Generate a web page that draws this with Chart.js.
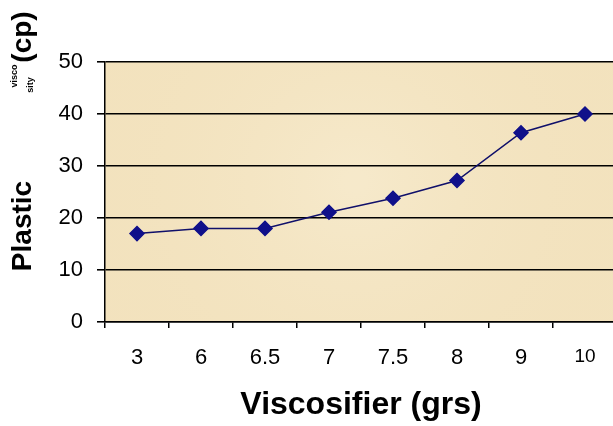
<!DOCTYPE html>
<html><head><meta charset="utf-8">
<script src="https://cdn.jsdelivr.net/npm/chart.js@4/dist/chart.umd.min.js"></script>
<style>html,body{margin:0;padding:0;background:#fff}#wrap{width:613px;height:426px}</style>
</head><body><div id="wrap"><canvas id="c" width="613" height="426"></canvas></div>
<script>
const categories = ['3','6','6.5','7','7.5','8','9','10'];
const plasticViscosity = [17, 18, 18, 21.1, 23.8, 27.2, 36.4, 40];
const yTicks = [0, 10, 20, 30, 40, 50];
const xTitle = 'Viscosifier (grs)';
const yTitleMain = 'Plastic';
const yTitleSmall = ['visco', 'sity'];
const yTitleUnit = '(cp)';

const FONT = '"Liberation Sans", Arial, sans-serif';

// the reference plot area runs a little past the right edge of the picture
const extendRight = {
  id: 'extendRight',
  afterLayout(chart) {
    const target = chart.width + 4;
    const extra = target - chart.chartArea.right;
    const x = chart.scales.x;
    x.right += extra;
    x.width += extra;
    x.configure();
    chart.chartArea.right += extra;
    chart.chartArea.width += extra;
    const y = chart.scales.y;
    y.configure();
  }
};

const bgPlugin = {
  id: 'bg',
  beforeDraw(chart) {
    const {ctx, chartArea: a} = chart;
    ctx.save();
    ctx.fillStyle = '#f3e3bf';
    ctx.fillRect(a.left, a.top, a.right - a.left, a.bottom - a.top);
    const g = ctx.createRadialGradient(a.left + 250, a.top + 120, 10, a.left + 250, a.top + 120, 280);
    g.addColorStop(0, 'rgba(248,237,210,0.6)');
    g.addColorStop(1, 'rgba(240,222,182,0.15)');
    ctx.fillStyle = g;
    ctx.fillRect(a.left, a.top, a.right - a.left, a.bottom - a.top);
    ctx.restore();
  }
};

const yTitlePlugin = {
  id: 'ytitle',
  afterDraw(chart) {
    const {ctx} = chart;
    const drawRot = (text, x, y, font) => {
      ctx.save();
      ctx.translate(x, y);
      ctx.rotate(-Math.PI / 2);
      ctx.font = font;
      ctx.fillStyle = '#000';
      ctx.textAlign = 'center';
      ctx.textBaseline = 'middle';
      ctx.fillText(text, 0, 0);
      ctx.restore();
    };
    drawRot(yTitleMain, 23, 226, 'bold 28px ' + FONT);
    drawRot(yTitleUnit, 23, 37, 'bold 28px ' + FONT);
    drawRot(yTitleSmall[0], 15, 76, 'bold 9px ' + FONT);
    drawRot(yTitleSmall[1], 31, 85, 'bold 9px ' + FONT);
  }
};

new Chart(document.getElementById('c'), {
  type: 'line',
  data: {
    labels: categories,
    datasets: [{
      data: plasticViscosity,
      borderColor: '#10106a',
      borderWidth: 1.5,
      backgroundColor: '#10108a',
      pointBackgroundColor: '#10108a',
      pointBorderColor: '#10108a',
      pointStyle: 'rectRot',
      pointRadius: 7,
      tension: 0,
      fill: false
    }]
  },
  options: {
    responsive: false,
    animation: false,
    devicePixelRatio: 1,
    layout: { padding: { left: 41, top: 62, right: 0, bottom: 2 } },
    plugins: { legend: { display: false }, tooltip: { enabled: false } },
    scales: {
      x: {
        type: 'category',
        offset: true,
        border: { display: true, color: '#000', width: 1.5 },
        grid: { display: true, offset: true, drawOnChartArea: false, drawTicks: true, tickLength: 6, color: '#000', lineWidth: 1.5 },
        ticks: {
          color: '#000',
          padding: 17,
          maxRotation: 0,
          autoSkip: false,
          font: (ctx) => ({ family: FONT, size: ctx.index === categories.length - 1 ? 19 : 22 })
        },
        title: { display: true, text: xTitle, color: '#000', font: { family: FONT, size: 32, weight: 'bold' }, padding: { top: 0, bottom: 0 } },
        afterFit(s) { s.height = 102; }
      },
      y: {
        min: 0, max: 50,
        afterBuildTicks(s) { s.ticks = yTicks.map(v => ({ value: v })); },
        border: { display: true, color: '#000', width: 1.5 },
        grid: { display: true, drawOnChartArea: true, drawTicks: true, tickLength: 8, color: '#000', lineWidth: 1.6 },
        ticks: { color: '#000', padding: 14, font: { family: FONT, size: 22 } },
        afterFit(s) { s.width = 64; }
      }
    }
  },
  plugins: [extendRight, bgPlugin, yTitlePlugin]
});
</script>
</body></html>
